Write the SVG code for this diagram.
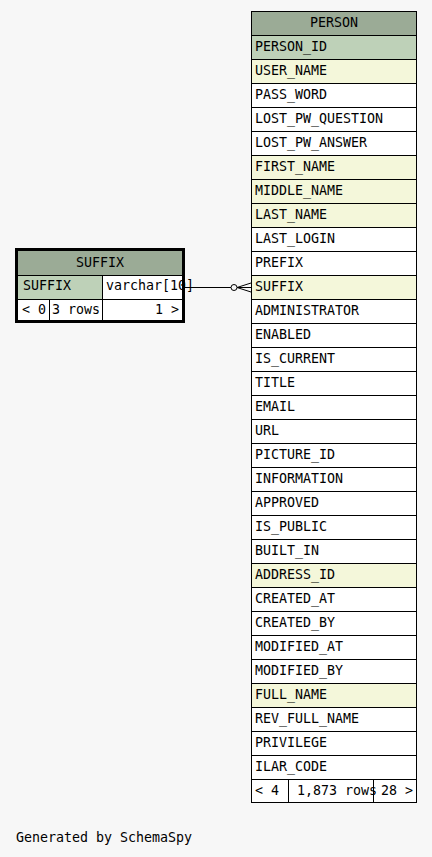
<svg xmlns="http://www.w3.org/2000/svg" width="432" height="857" viewBox="0 0 432 857">
<style>
text{font-family:"DejaVu Sans Mono","Liberation Mono",monospace;font-size:13.3px;fill:#000}
.c{stroke:#000;stroke-width:1}
.h{fill:#9bab96}
.pk{fill:#bed1b8}
.ix{fill:#f4f7da}
.w{fill:#fff}
.mid{text-anchor:middle}
.end{text-anchor:end}
.ln{stroke:#000;stroke-width:1;fill:none}
</style>
<rect width="432" height="857" fill="#f7f7f7"/>
<g id="SUFFIX">
<rect x="16.5" y="249.5" width="167" height="72" fill="#fff" stroke="#000" stroke-width="3"/>
<rect class="h" x="18" y="251" width="164" height="24"/>
<rect class="pk" x="18" y="275" width="84" height="24"/>
<rect class="w" x="102" y="275" width="80" height="24"/>
<line class="c" x1="18" y1="275.5" x2="182" y2="275.5"/>
<line class="c" x1="18" y1="299.5" x2="182" y2="299.5"/>
<line class="c" x1="102.5" y1="275" x2="102.5" y2="320"/>
<line class="c" x1="49.5" y1="299" x2="49.5" y2="320"/>
<text class="mid" x="100" y="267">SUFFIX</text>
<text x="23" y="290">SUFFIX</text>
<text x="106" y="290">varchar[10]</text>
<text x="22" y="314">&lt; 0</text>
<text x="52" y="314">3 rows</text>
<text class="end" x="179" y="314">1 &gt;</text>
</g>
<g id="PERSON">
<rect class="h c" x="251.5" y="11.5" width="165" height="24"/>
<text class="mid" x="334" y="27">PERSON</text>
<rect class="pk c" x="251.5" y="35.5" width="165" height="24"/><text x="255" y="51">PERSON_ID</text>
<rect class="ix c" x="251.5" y="59.5" width="165" height="24"/><text x="255" y="75">USER_NAME</text>
<rect class="w c" x="251.5" y="83.5" width="165" height="24"/><text x="255" y="99">PASS_WORD</text>
<rect class="w c" x="251.5" y="107.5" width="165" height="24"/><text x="255" y="123">LOST_PW_QUESTION</text>
<rect class="w c" x="251.5" y="131.5" width="165" height="24"/><text x="255" y="147">LOST_PW_ANSWER</text>
<rect class="ix c" x="251.5" y="155.5" width="165" height="24"/><text x="255" y="171">FIRST_NAME</text>
<rect class="ix c" x="251.5" y="179.5" width="165" height="24"/><text x="255" y="195">MIDDLE_NAME</text>
<rect class="ix c" x="251.5" y="203.5" width="165" height="24"/><text x="255" y="219">LAST_NAME</text>
<rect class="w c" x="251.5" y="227.5" width="165" height="24"/><text x="255" y="243">LAST_LOGIN</text>
<rect class="w c" x="251.5" y="251.5" width="165" height="24"/><text x="255" y="267">PREFIX</text>
<rect class="ix c" x="251.5" y="275.5" width="165" height="24"/><text x="255" y="291">SUFFIX</text>
<rect class="w c" x="251.5" y="299.5" width="165" height="24"/><text x="255" y="315">ADMINISTRATOR</text>
<rect class="w c" x="251.5" y="323.5" width="165" height="24"/><text x="255" y="339">ENABLED</text>
<rect class="w c" x="251.5" y="347.5" width="165" height="24"/><text x="255" y="363">IS_CURRENT</text>
<rect class="w c" x="251.5" y="371.5" width="165" height="24"/><text x="255" y="387">TITLE</text>
<rect class="w c" x="251.5" y="395.5" width="165" height="24"/><text x="255" y="411">EMAIL</text>
<rect class="w c" x="251.5" y="419.5" width="165" height="24"/><text x="255" y="435">URL</text>
<rect class="w c" x="251.5" y="443.5" width="165" height="24"/><text x="255" y="459">PICTURE_ID</text>
<rect class="w c" x="251.5" y="467.5" width="165" height="24"/><text x="255" y="483">INFORMATION</text>
<rect class="w c" x="251.5" y="491.5" width="165" height="24"/><text x="255" y="507">APPROVED</text>
<rect class="w c" x="251.5" y="515.5" width="165" height="24"/><text x="255" y="531">IS_PUBLIC</text>
<rect class="w c" x="251.5" y="539.5" width="165" height="24"/><text x="255" y="555">BUILT_IN</text>
<rect class="ix c" x="251.5" y="563.5" width="165" height="24"/><text x="255" y="579">ADDRESS_ID</text>
<rect class="w c" x="251.5" y="587.5" width="165" height="24"/><text x="255" y="603">CREATED_AT</text>
<rect class="w c" x="251.5" y="611.5" width="165" height="24"/><text x="255" y="627">CREATED_BY</text>
<rect class="w c" x="251.5" y="635.5" width="165" height="24"/><text x="255" y="651">MODIFIED_AT</text>
<rect class="w c" x="251.5" y="659.5" width="165" height="24"/><text x="255" y="675">MODIFIED_BY</text>
<rect class="ix c" x="251.5" y="683.5" width="165" height="24"/><text x="255" y="699">FULL_NAME</text>
<rect class="w c" x="251.5" y="707.5" width="165" height="24"/><text x="255" y="723">REV_FULL_NAME</text>
<rect class="w c" x="251.5" y="731.5" width="165" height="24"/><text x="255" y="747">PRIVILEGE</text>
<rect class="w c" x="251.5" y="755.5" width="165" height="24"/><text x="255" y="771">ILAR_CODE</text>
<rect class="w c" x="251.5" y="779.5" width="37" height="23"/>
<rect class="w c" x="288.5" y="779.5" width="85" height="23"/>
<rect class="w c" x="373.5" y="779.5" width="43" height="23"/>
<text x="255" y="795">&lt; 4</text>
<text x="297" y="795">1,873 rows</text>
<text class="end" x="413" y="795">28 &gt;</text>
</g>
<g id="connectors">
<line class="ln" x1="185" y1="287.5" x2="231" y2="287.5"/>
<circle class="ln" cx="234" cy="287.5" r="3"/>
<path class="ln" d="M251,283 L237,287.5 L251,292 M237,287.5 L251,287.5"/>
</g>
<text x="16" y="842">Generated by SchemaSpy</text>
</svg>
